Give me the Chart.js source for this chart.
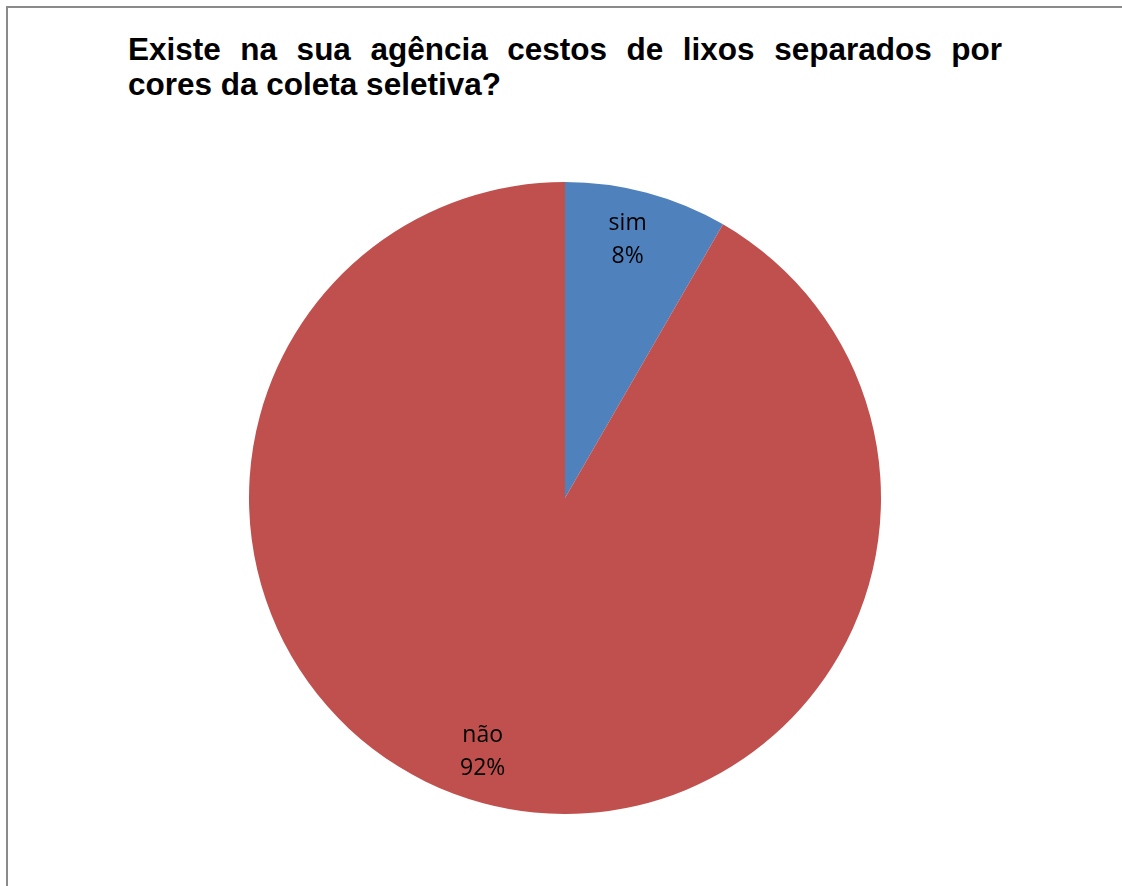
<!DOCTYPE html>
<html>
<head>
<meta charset="utf-8">
<script src="https://cdn.jsdelivr.net/npm/chart.js@4"></script>
<style>
  html, body { margin: 0; padding: 0; background: #fff; }
  body { width: 1122px; height: 886px; position: relative; overflow: hidden; }
  #frame {
    position: absolute; left: 6px; top: 6px; width: 1200px; height: 1000px;
    border-left: 2px solid #8a8a8a; border-top: 2px solid #8a8a8a;
  }
  .title {
    position: absolute; left: 128px; width: 874px;
    font-family: "Liberation Sans", Arial, sans-serif; font-weight: bold;
    font-size: 31.5px; line-height: 36px; color: #000; white-space: nowrap;
  }
  #t1 { top: 31px; text-align: justify; text-align-last: justify; white-space: normal; }
  #t2 { top: 66px; }
  #pie { position: absolute; left: 249px; top: 182px; }
</style>
</head>
<body>
<div id="frame"></div>
<div class="title" id="t1">Existe na sua agência cestos de lixos separados por</div>
<div class="title" id="t2">cores da coleta seletiva?</div>
<canvas id="pie" width="632" height="632"></canvas>
<script>
'use strict';

// respostas
const labels = ['sim', 'não'];
const counts = [1, 11];
const colors = ['#4f81bd', '#c0504d'];

// rotulo "categoria + %" dentro de cada fatia
// (pequeno ajuste de angulo em graus para cada rotulo)
const labelNudge = [-1.4, 3];

const sliceLabels = {
  id: 'sliceLabels',
  afterDatasetsDraw(chart) {
    const ctx = chart.ctx;
    const meta = chart.getDatasetMeta(0);
    const total = counts.reduce(function(a, b) { return a + b }, 0);
    ctx.save();
    ctx.font = '23px "Open Sans", sans-serif';
    ctx.fillStyle = '#000';
    ctx.textAlign = 'center';
    ctx.textBaseline = 'middle';
    meta.data.forEach(function(arc, i) {
      const p = arc.getProps(['x', 'y', 'startAngle', 'endAngle', 'outerRadius'], true);
      const mid = (p.startAngle + p.endAngle) / 2 + labelNudge[i] * Math.PI / 180;
      const r = p.outerRadius * 0.843;
      const x = p.x + Math.cos(mid) * r;
      const y = p.y + Math.sin(mid) * r;
      const pct = Math.round(counts[i] / total * 100) + '%';
      ctx.fillText(labels[i], x, y - 16);
      ctx.fillText(pct, x, y + 17);
    });
    ctx.restore();
  }
};

new Chart(document.getElementById('pie').getContext('2d'), {
  type: 'pie',
  data: {
    labels: labels,
    datasets: [{
      data: counts,
      backgroundColor: colors,
      borderWidth: 0
    }]
  },
  options: {
    responsive: false,
    animation: false,
    layout: { padding: 0 },
    plugins: {
      legend: { display: false },
      tooltip: { enabled: false }
    }
  },
  plugins: [sliceLabels]
});
</script>
</body>
</html>
